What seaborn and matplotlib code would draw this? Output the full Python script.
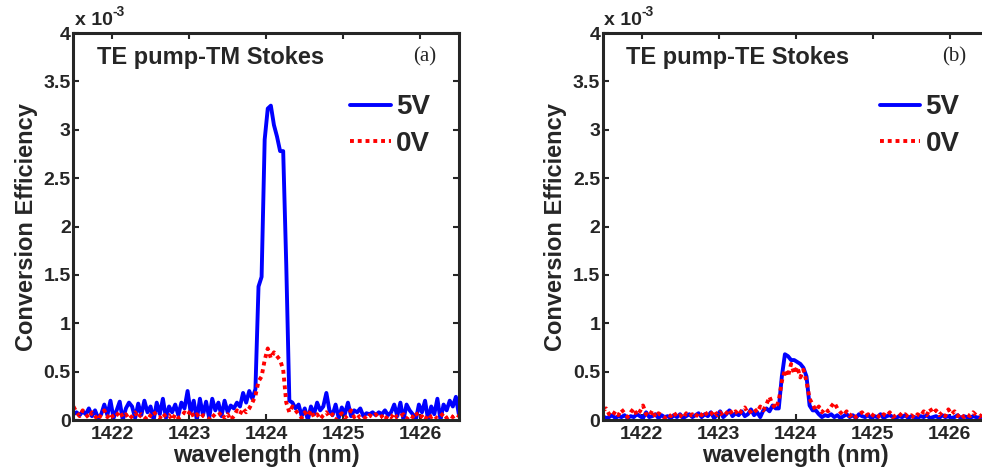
import numpy as np
import pandas as pd
import matplotlib
matplotlib.use("Agg")
import matplotlib.pyplot as plt
import seaborn as sns

# conversion efficiency in units of 1e-3, sampled every 0.04 nm from 1421.5 to 1426.5 nm
TM_5V = [
    0.06, 0.08, 0.05, 0.09, 0.06, 0.12, 0.04, 0.10, 0.02, 0.06,
    0.16, 0.05, 0.20, 0.02, 0.10, 0.19, 0.00, 0.12, 0.18, 0.14,
    0.02, 0.17, 0.05, 0.20, 0.08, 0.14, 0.00, 0.18, 0.06, 0.22,
    0.02, 0.14, 0.08, 0.16, 0.05, 0.18, 0.12, 0.30, 0.08, 0.20,
    0.00, 0.22, 0.05, 0.19, 0.02, 0.22, 0.10, 0.18, 0.04, 0.20,
    0.08, 0.15, 0.12, 0.18, 0.14, 0.28, 0.18, 0.30, 0.22, 0.32,
    1.38, 1.48, 2.90, 3.22, 3.25, 3.05, 2.93, 2.78, 2.78, 1.60,
    0.20, 0.18, 0.12, 0.16, 0.04, 0.12, 0.00, 0.14, 0.06, 0.18,
    0.10, 0.14, 0.28, 0.10, 0.05, 0.16, 0.02, 0.13, 0.06, 0.18,
    0.04, 0.10, 0.08, 0.12, 0.04, 0.07, 0.06, 0.08, 0.05, 0.08,
    0.06, 0.10, 0.05, 0.08, 0.16, 0.04, 0.18, 0.00, 0.16, 0.10,
    0.06, 0.00, 0.16, 0.08, 0.20, 0.00, 0.14, 0.06, 0.22, 0.00,
    0.16, 0.10, 0.20, 0.14, 0.24, 0.05,
]
TM_0V = [
    0.14, 0.08, 0.04, 0.10, 0.06, 0.02, 0.08, 0.04, 0.00, 0.06,
    0.10, 0.03, 0.07, 0.02, 0.05, 0.09, 0.03, 0.06, 0.01, 0.04,
    0.08, 0.02, 0.06, 0.03, 0.00, 0.05, 0.09, 0.04, 0.02, 0.07,
    0.03, 0.05, 0.00, 0.06, 0.02, 0.04, 0.08, 0.05, 0.10, 0.03,
    0.06, 0.02, 0.05, 0.04, 0.01, 0.06, 0.03, 0.05, 0.08, 0.02,
    0.06, 0.00, 0.04, 0.10, 0.06, 0.12, 0.08, 0.12, 0.18, 0.25,
    0.40, 0.45, 0.62, 0.74, 0.64, 0.70, 0.66, 0.62, 0.52, 0.18,
    0.08, 0.14, 0.10, 0.06, 0.02, 0.08, 0.04, 0.10, 0.03, 0.06,
    0.01, 0.05, 0.08, 0.03, 0.06, 0.00, 0.04, 0.07, 0.02, 0.05,
    0.10, 0.03, 0.06, 0.02, 0.04, 0.01, 0.05, 0.03, 0.06, 0.02,
    0.04, 0.00, 0.05, 0.03, 0.07, 0.02, 0.04, 0.06, 0.01, 0.05,
    0.03, 0.08, 0.02, 0.04, 0.00, 0.06, 0.03, 0.05, 0.01, 0.04,
    0.07, 0.02, 0.05, 0.03, 0.06, 0.04,
]
TE_5V = [
    0.04, 0.02, 0.03, 0.05, 0.02, 0.04, 0.03, 0.05, 0.02, 0.04,
    0.03, 0.06, 0.04, 0.02, 0.08, 0.03, 0.04, 0.06, 0.02, 0.05,
    0.03, 0.04, 0.02, 0.05, 0.03, 0.06, 0.02, 0.04, 0.06, 0.03,
    0.05, 0.07, 0.03, 0.06, 0.04, 0.08, 0.02, 0.05, 0.09, 0.03,
    0.06, 0.10, 0.04, 0.07, 0.05, 0.09, 0.04, 0.06, 0.11, 0.05,
    0.08, 0.03, 0.10, 0.12, 0.09, 0.15, 0.12, 0.12, 0.45, 0.68,
    0.66, 0.62, 0.62, 0.60, 0.58, 0.54, 0.45, 0.15, 0.10, 0.10,
    0.06, 0.03, 0.05, 0.04, 0.06, 0.03, 0.05, 0.02, 0.04, 0.06,
    0.03, 0.05, 0.02, 0.06, 0.04, 0.03, 0.05, 0.02, 0.04, 0.03,
    0.06, 0.02, 0.04, 0.05, 0.03, 0.02, 0.04, 0.03, 0.05, 0.02,
    0.04, 0.03, 0.02, 0.04, 0.03, 0.05, 0.02, 0.03, 0.04, 0.02,
    0.05, 0.03, 0.04, 0.02, 0.03, 0.05, 0.02, 0.04, 0.03, 0.02,
    0.04, 0.03, 0.02, 0.04, 0.03, 0.02,
]
TE_0V = [
    0.10, 0.12, 0.06, 0.04, 0.09, 0.05, 0.11, 0.07, 0.03, 0.08,
    0.12, 0.05, 0.09, 0.15, 0.06, 0.04, 0.10, 0.03, 0.07, 0.05,
    0.02, 0.06, 0.04, 0.08, 0.03, 0.05, 0.02, 0.07, 0.04, 0.06,
    0.03, 0.08, 0.05, 0.09, 0.04, 0.06, 0.10, 0.05, 0.08, 0.04,
    0.07, 0.11, 0.06, 0.09, 0.05, 0.10, 0.13, 0.07, 0.09, 0.12,
    0.08, 0.14, 0.10, 0.16, 0.24, 0.16, 0.12, 0.20, 0.40, 0.52,
    0.45, 0.58, 0.48, 0.55, 0.44, 0.52, 0.40, 0.22, 0.16, 0.10,
    0.14, 0.08, 0.12, 0.09, 0.14, 0.18, 0.12, 0.08, 0.05, 0.09,
    0.04, 0.07, 0.03, 0.06, 0.08, 0.04, 0.06, 0.03, 0.07, 0.05,
    0.02, 0.06, 0.04, 0.08, 0.03, 0.05, 0.07, 0.04, 0.06, 0.03,
    0.05, 0.02, 0.06, 0.04, 0.09, 0.05, 0.12, 0.07, 0.10, 0.05,
    0.08, 0.04, 0.11, 0.06, 0.09, 0.04, 0.07, 0.03, 0.06, 0.04,
    0.08, 0.05, 0.03, 0.06, 0.04, 0.09,
]
WAVELENGTH = np.linspace(1421.5, 1426.5, len(TM_5V))

PANELS = [
    ("TE pump-TM Stokes", "(a)", TM_5V, TM_0V),
    ("TE pump-TE Stokes", "(b)", TE_5V, TE_0V),
]
VOLTAGES = ["5V", "0V"]
COLORS = {"5V": "#0000FF", "0V": "#FF0000"}
DASHES = {"5V": "", "0V": (1, 1)}
X_TICKS = [1422, 1423, 1424, 1425, 1426]
Y_TICKS = [0, 0.5, 1, 1.5, 2, 2.5, 3, 3.5, 4]

sns.set_style("ticks")
plt.rcParams["font.family"] = ["Liberation Sans", "DejaVu Sans"]
plt.rcParams["font.weight"] = "bold"
plt.rcParams["axes.labelweight"] = "bold"

fig = plt.figure(figsize=(9.82, 4.73), dpi=100)
axes = [
    fig.add_axes([0.0748, 0.112, 0.3926, 0.818]),
    fig.add_axes([0.614, 0.112, 0.3926, 0.818]),
]

for ax, (title, tag, y5, y0) in zip(axes, PANELS):
    df = pd.DataFrame(
        {
            "wavelength": np.concatenate([WAVELENGTH, WAVELENGTH]),
            "eff": y5 + y0,
            "V": ["5V"] * len(y5) + ["0V"] * len(y0),
        }
    )
    sns.lineplot(
        data=df,
        x="wavelength",
        y="eff",
        hue="V",
        style="V",
        palette=COLORS,
        dashes=DASHES,
        hue_order=VOLTAGES,
        style_order=VOLTAGES,
        linewidth=2.8,
        ax=ax,
    )
    ax.set_xlim(1421.5, 1426.5)
    ax.set_ylim(0, 4)
    ax.set_xticks(X_TICKS)
    ax.set_yticks(Y_TICKS)
    ax.set_yticklabels([f"{t:g}" for t in Y_TICKS])
    ax.tick_params(
        direction="in", top=True, right=True, length=4, width=1.5,
        labelsize=14, pad=4,
    )
    ax.tick_params(axis="y", pad=2)
    for s in ax.spines.values():
        s.set_linewidth(2.2)
        s.set_visible(True)
    ax.set_xlabel("wavelength (nm)", fontsize=17, labelpad=1)
    ax.set_ylabel("Conversion Efficiency", fontsize=17, labelpad=4)

    ax.text(0.06, 0.938, title, transform=ax.transAxes, fontsize=17,
            fontweight="bold", va="center", ha="left")
    ax.text(0.912, 0.938, tag, transform=ax.transAxes, fontsize=15,
            fontweight="normal", family="Liberation Serif", va="center",
            ha="center")

    t = ax.text(0.003, 1.021, "x 10", transform=ax.transAxes, fontsize=14,
                fontweight="bold", va="baseline", ha="left")
    ax.annotate("-3", xy=(1.0, 1.0), xycoords=t, fontsize=10,
                fontweight="bold", va="center", ha="left")

    handles, labels = ax.get_legend_handles_labels()
    ax.legend(
        handles, labels, loc="upper right", bbox_to_anchor=(0.925, 0.842),
        frameon=False, handlelength=1.45, handletextpad=0.2,
        labelspacing=0.37, borderpad=0, borderaxespad=0,
        prop={"weight": "bold", "size": 20},
    )

fig.savefig("out.png", dpi=100)
